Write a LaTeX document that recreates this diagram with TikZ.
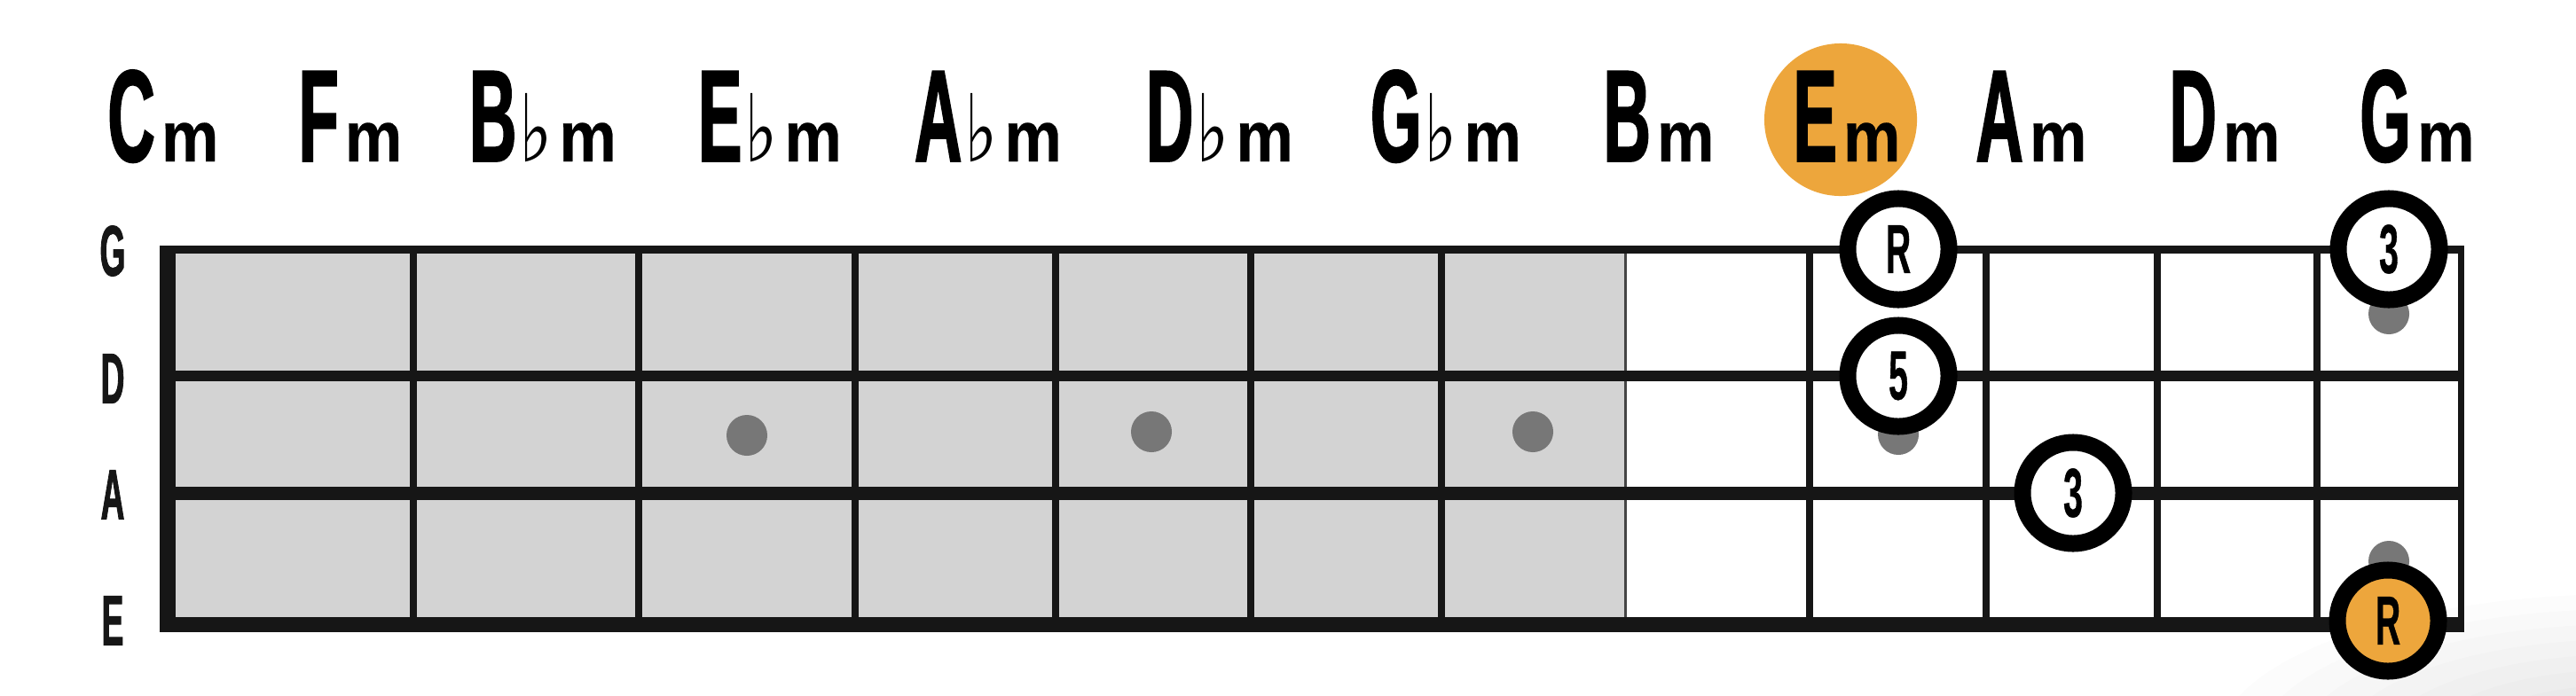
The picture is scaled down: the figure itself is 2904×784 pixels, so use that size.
\documentclass[tikz,border=0pt]{standalone}
\usepackage{fontspec}
\newfontface\capfont[FakeStretch=0.5,FakeBold=1.2]{Liberation Sans Bold}
\newfontface\smfont[FakeStretch=0.9,FakeBold=0.3]{Liberation Sans Bold}
\newfontface\flatfont[FakeStretch=0.75]{DejaVu Sans}
\newfontface\strfont[FakeStretch=0.46,FakeBold=1.0]{Liberation Sans Bold}
\newfontface\notefont[FakeStretch=0.5,FakeBold=0.5]{Liberation Sans Bold}
\definecolor{ink}{HTML}{161616}
\definecolor{boardgray}{HTML}{D3D3D3}
\definecolor{dotgray}{HTML}{777777}
\definecolor{accent}{HTML}{EDA63C}
\newcommand{\chordlab}[2]{{\capfont\fontsize{42}{42}\selectfont #1}#2{\smfont\fontsize{23}{23}\selectfont m}}
\newcommand{\flt}{\kern1pt{\flatfont\fontsize{30}{30}\selectfont ♭}\kern2pt}
\begin{document}
\begin{tikzpicture}[x=0.01cm,y=-0.01cm,
  chord/.style={anchor=base,inner sep=0pt,text=black},
  strlab/.style={inner sep=0pt,text=ink,font=\strfont\fontsize{23}{23}\selectfont},
  note/.style={circle,draw=black,line width=5.4pt,fill=white,minimum size=1.14cm,inner sep=0pt,
    text=black,font=\notefont\fontsize{22.3}{22.3}\selectfont},
  fretline/.style={draw=ink,line width=2.3pt}]
\useasboundingbox (0,0) rectangle (2904,784);
\fill[white] (0,0) rectangle (2904,784);
% faint corner shadow
\foreach \k in {1.0,0.9,0.8,0.7,0.6,0.5,0.4,0.3,0.2}
  \fill[black,opacity=0.013] (2960,840) ellipse[x radius=4.6cm*\k, y radius=1.7cm*\k];
% board
\fill[boardgray] (189,281) rectangle (1832,705);
% frets
\foreach \fx in {466,720,964,1190,1410,1625,2040,2239,2432,2612}
  \draw[fretline] (\fx,281) -- (\fx,705);
\draw[draw=ink!80,line width=0.85pt] (1832,281) -- (1832,708);
\draw[draw=ink,line width=2pt] (2774,277) -- (2774,713);
% strings
\draw[ink,line width=2.56pt] (180,281) -- (2778,281);
\draw[ink,line width=3.41pt] (180,424) -- (2778,424);
\draw[ink,line width=4.27pt] (180,556) -- (2778,556);
\draw[ink,line width=4.84pt] (180,704.5) -- (2778,704.5);
% nut
\draw[ink,line width=5.1pt] (189,277) -- (189,713);
% fret markers
\foreach \mx/\my in {842/491,1298/487,1728/487,2140/490,2693/354,2693/633}
  \fill[dotgray] (\mx,\my) circle[radius=0.23cm];
% string labels
\node[strlab] (sG) at (127,283) {G};
\node[strlab] (sD) at (127,427) {D};
\node[strlab] (sA) at (127,558) {A};
\node[strlab] (sE) at (127,700) {E};
% chord labels
\fill[accent] (2075,135) circle[radius=0.86cm];
\node[chord] (cC) at (184,182) {\chordlab{C}{\kern2pt}};
\node[chord] (cF) at (395,182) {\chordlab{F}{\kern2pt}};
\node[chord] (cBb) at (612,182) {\chordlab{B}{\flt}};
\node[chord] (cEb) at (868,182) {\chordlab{E}{\flt}};
\node[chord] (cAb) at (1114,182) {\chordlab{A}{\flt}};
\node[chord] (cDb) at (1375,182) {\chordlab{D}{\flt}};
\node[chord] (cGb) at (1630,182) {\chordlab{G}{\flt}};
\node[chord] (cB) at (1870,182) {\chordlab{B}{\kern2pt}};
\node[chord] (cE) at (2082,182) {\chordlab{E}{\kern2pt}};
\node[chord] (cA) at (2290,182) {\chordlab{A}{\kern2pt}};
\node[chord] (cD) at (2508,182) {\chordlab{D}{\kern2pt}};
\node[chord] (cG) at (2725,182) {\chordlab{G}{\kern2pt}};
% notes
\node[note] (n1) at (2140,281) {R};
\node[note] (n2) at (2140,424) {5};
\node[note] (n3) at (2337,556) {3};
\node[note] (n4) at (2693,281) {3};
\node[note,fill=accent] (n5) at (2692,700) {R};
\end{tikzpicture}
\end{document}
